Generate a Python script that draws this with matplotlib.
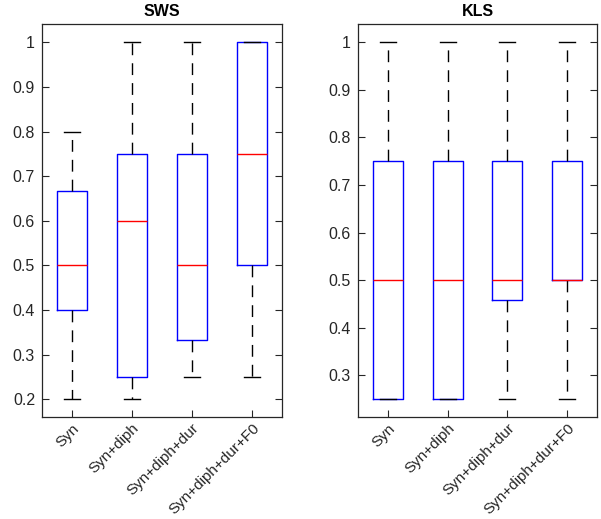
import matplotlib
matplotlib.use("Agg")
import matplotlib.pyplot as plt

categories = ["Syn", "Syn+diph", "Syn+diph+dur", "Syn+diph+dur+F0"]

# SWS: whisker low, q1, median, q3, whisker high
sws_wlo = [0.2, 0.2, 0.25, 0.25]
sws_q1 = [0.4, 0.25, 0.3333, 0.5]
sws_med = [0.5, 0.6, 0.5, 0.75]
sws_q3 = [0.6667, 0.75, 0.75, 1.0]
sws_whi = [0.8, 1.0, 1.0, 1.0]

# KLS
kls_wlo = [0.25, 0.25, 0.25, 0.25]
kls_q1 = [0.25, 0.25, 0.4583, 0.5]
kls_med = [0.5, 0.5, 0.5, 0.5]
kls_q3 = [0.75, 0.75, 0.75, 0.75]
kls_whi = [1.0, 1.0, 1.0, 1.0]

sws_ticks = [0.2, 0.3, 0.4, 0.5, 0.6, 0.7, 0.8, 0.9, 1.0]
sws_ticklabels = ["0.2", "0.3", "0.4", "0.5", "0.6", "0.7", "0.8", "0.9", "1"]
kls_ticks = [0.3, 0.4, 0.5, 0.6, 0.7, 0.8, 0.9, 1.0]
kls_ticklabels = ["0.3", "0.4", "0.5", "0.6", "0.7", "0.8", "0.9", "1"]

plt.rcParams['font.family'] = ['Liberation Sans', 'DejaVu Sans']
gray = '#262626'

fig = plt.figure(figsize=(6.01, 5.19), dpi=100)
W, H = 601, 519
ax1 = fig.add_axes([42 / W, 1 - 417 / H, 240 / W, 393 / H])
ax2 = fig.add_axes([358 / W, 1 - 417 / H, 239 / W, 393 / H])


def draw(ax, wlo, q1, med, q3, whi, ylim, ticks, ticklabels, title):
    stats = []
    for i in range(len(categories)):
        stats.append(dict(whislo=wlo[i], q1=q1[i], med=med[i], q3=q3[i],
                          whishi=whi[i], fliers=[], label=categories[i]))
    ax.bxp(stats, positions=range(1, len(categories) + 1), widths=0.5,
           showfliers=False, manage_ticks=False,
           boxprops=dict(color='#0000ff', linewidth=1.0),
           medianprops=dict(color='#ff0000', linewidth=1.0),
           whiskerprops=dict(color='black', linewidth=1.0, linestyle=(0, (8.5, 5.8))),
           capprops=dict(color='black', linewidth=1.0),
           capwidths=0.27)
    ax.set_xlim(0.5, len(categories) + 0.5)
    ax.set_ylim(*ylim)
    ax.set_xticks(range(1, len(categories) + 1))
    ax.set_xticklabels(categories, rotation=45, ha='right', rotation_mode='anchor',
                       fontsize=11, color=gray)
    ax.set_yticks(ticks)
    ax.set_yticklabels(ticklabels, fontsize=11.5, color=gray)
    ax.tick_params(direction='in', length=5, width=0.8, color=gray, right=True,
                   top=False)
    ax.tick_params(axis='x', pad=3)
    ax.tick_params(axis='y', pad=5)
    for s in ax.spines.values():
        s.set_color(gray)
        s.set_linewidth(0.9)
    ax.set_title(title, fontsize=11.5, fontweight='bold', color='black', pad=6)


draw(ax1, sws_wlo, sws_q1, sws_med, sws_q3, sws_whi, (0.16, 1.041),
     sws_ticks, sws_ticklabels, "SWS")
draw(ax2, kls_wlo, kls_q1, kls_med, kls_q3, kls_whi, (0.212, 1.0385),
     kls_ticks, kls_ticklabels, "KLS")

fig.savefig("out.png", dpi=100)
